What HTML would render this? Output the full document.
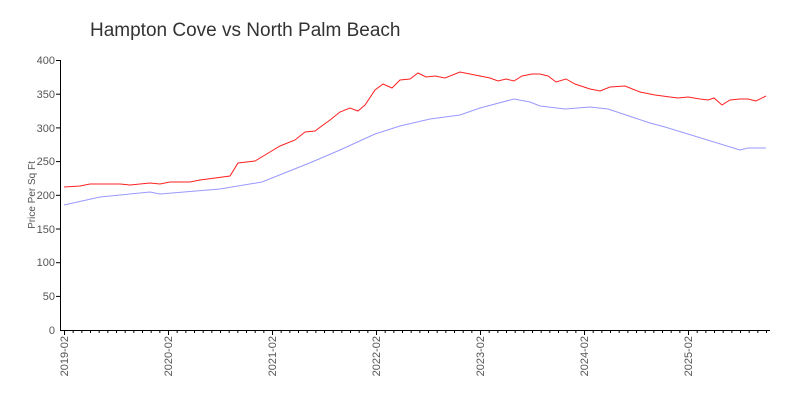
<!DOCTYPE html>
<html><head><meta charset="utf-8"><style>
body{margin:0;background:#fff;}
svg{display:block;font-family:"Liberation Sans",sans-serif;}
</style></head><body>
<svg width="800" height="400" viewBox="0 0 800 400">
<defs>
<pattern id="mt" x="64" y="330" width="8.667" height="4" patternUnits="userSpaceOnUse">
<rect x="0" y="0" width="1" height="3" fill="#000"/>
</pattern>
</defs>
<text x="90" y="36" font-size="19" fill="#333">Hampton Cove vs North Palm Beach</text>
<g stroke="#000" stroke-width="1" fill="none">
<line x1="60.5" y1="60" x2="60.5" y2="330.5"/>
<line x1="60" y1="330.5" x2="770" y2="330.5"/>
</g>
<rect x="64" y="330" width="707" height="3" fill="url(#mt)"/>
<g stroke="#000" stroke-width="1">
<line x1="56" x2="60.5" y1="60.5" y2="60.5"/><line x1="56" x2="60.5" y1="94.2" y2="94.2"/>
<line x1="56" x2="60.5" y1="127.9" y2="127.9"/><line x1="56" x2="60.5" y1="161.6" y2="161.6"/>
<line x1="56" x2="60.5" y1="195.3" y2="195.3"/><line x1="56" x2="60.5" y1="229" y2="229"/>
<line x1="56" x2="60.5" y1="262.7" y2="262.7"/><line x1="56" x2="60.5" y1="296.4" y2="296.4"/>
<line x1="64.5" x2="64.5" y1="330" y2="335"/><line x1="168.5" x2="168.5" y1="330" y2="335"/>
<line x1="272.5" x2="272.5" y1="330" y2="335"/><line x1="376.5" x2="376.5" y1="330" y2="335"/>
<line x1="480.5" x2="480.5" y1="330" y2="335"/><line x1="584.5" x2="584.5" y1="330" y2="335"/>
<line x1="688.5" x2="688.5" y1="330" y2="335"/>
</g>
<g font-size="11" fill="#555" text-anchor="end">
<text x="55" y="64">400</text><text x="55" y="98">350</text><text x="55" y="132">300</text>
<text x="55" y="165">250</text><text x="55" y="199">200</text><text x="55" y="233">150</text>
<text x="55" y="266">100</text><text x="55" y="300">50</text><text x="55" y="334">0</text>
</g>
<text transform="translate(35,195) rotate(-90)" font-size="10" fill="#555" text-anchor="middle">Price Per Sq Ft</text>
<g font-size="11" fill="#555" text-anchor="end">
<text transform="translate(68,336) rotate(-90)">2019-02</text>
<text transform="translate(172,336) rotate(-90)">2020-02</text>
<text transform="translate(276,336) rotate(-90)">2021-02</text>
<text transform="translate(380,336) rotate(-90)">2022-02</text>
<text transform="translate(484,336) rotate(-90)">2023-02</text>
<text transform="translate(588,336) rotate(-90)">2024-02</text>
<text transform="translate(692,336) rotate(-90)">2025-02</text>
</g>
<polyline fill="none" stroke="#ff2020" stroke-width="1" points="64,187 80,186 90,184 120,184 130,185 150,183 160,184 170,182 190,182 200,180 230,176 238,163 255,161 265,155 280,146 295,140 305,132 315,131 330,120 340,112 350,108 358,111 365,105 375,90 383,84 392,88 400,80 410,79 418,73 426,77 435,76 445,78 460,72 470,74 480,76 490,78 498,81 506,79 514,81 522,76 532,74 540,74 548,76 556,82 566,79 575,84 590,89 600,91 610,87 625,86 640,92 655,95 670,97 678,98 688,97 700,99 708,100 714,98 722,105 730,100 740,99 748,99 756,101 766,96"/>
<polyline fill="none" stroke="#9999ff" stroke-width="1" points="64,205 100,197 150,192 160,194 220,189 262,182 312,162 340,150 375,134 400,126 430,119 460,115 480,108 514,99 530,102 540,106 565,109 590,107 608,109 620,113 650,123 665,127 740,150 748,148 766,148"/>
</svg>
</body></html>
